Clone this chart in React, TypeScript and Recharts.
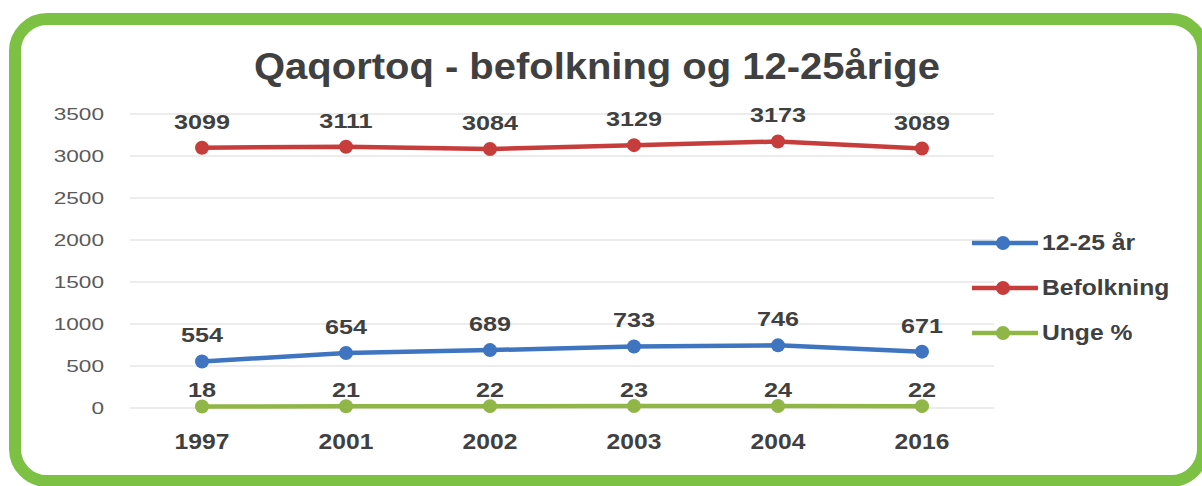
import React from 'react';
import { LineChart, Line, XAxis, YAxis, CartesianGrid, LabelList, Legend } from 'recharts';

const years = ['1997', '2001', '2002', '2003', '2004', '2016'];
const youth = [554, 654, 689, 733, 746, 671];
const population = [3099, 3111, 3084, 3129, 3173, 3089];
const youthPct = [18, 21, 22, 23, 24, 22];
const yTicks = [0, 500, 1000, 1500, 2000, 2500, 3000, 3500];

const data = years.map((year, i) => ({
  year,
  youth: youth[i],
  population: population[i],
  youthPct: youthPct[i],
}));

const FONT = '"Liberation Sans", Arial, sans-serif';
const BLUE = '#3E74C0';
const RED = '#C63D3C';
const GREEN = '#8FB646';
const FRAME = '#7CC143';
const TEXT = '#404040';

const YTick = (props: any) => {
  const { x, y, payload } = props;
  return (
    <g transform={`translate(${x},${y}) scale(1.33,1)`}>
      <text x={0} y={0} dy={6} textAnchor="end" fill="#595959" fontSize={17} fontFamily={FONT}>
        {payload.value}
      </text>
    </g>
  );
};

const XTick = (props: any) => {
  const { x, y, payload } = props;
  return (
    <g transform={`translate(${x},${y + 41}) scale(1.12,1)`}>
      <text x={0} y={0} textAnchor="middle" fill={TEXT} fontSize={22} fontWeight="bold" fontFamily={FONT}>
        {payload.value}
      </text>
    </g>
  );
};

const makeLabel = (offset: number) => (props: any) => {
  const { x, y, value } = props;
  return (
    <g transform={`translate(${x},${y - offset}) scale(1.2,1)`}>
      <text x={0} y={0} textAnchor="middle" fill={TEXT} fontSize={21} fontWeight="bold" fontFamily={FONT}>
        {value}
      </text>
    </g>
  );
};

const LegendContent = (props: any) => {
  const { payload } = props;
  return (
    <div style={{ display: 'flex', flexDirection: 'column' }}>
      {(payload || []).map((entry: any) => (
        <div key={entry.value} style={{ display: 'flex', alignItems: 'center', height: 45 }}>
          <svg width={66} height={16} style={{ display: 'block' }}>
            <line x1={0} y1={8} x2={66} y2={8} stroke={entry.color} strokeWidth={4.5} />
            <circle cx={31} cy={8} r={7} fill={entry.color} />
          </svg>
          <span
            style={{
              marginLeft: 4,
              fontFamily: FONT,
              fontSize: 22,
              fontWeight: 'bold',
              color: TEXT,
              display: 'inline-block',
              transform: 'scaleX(1.12)',
              transformOrigin: 'left center',
              whiteSpace: 'nowrap',
            }}
          >
            {entry.value}
          </span>
        </div>
      ))}
    </div>
  );
};

export default function App() {
  return (
    <div style={{ position: 'absolute', left: 0, top: 0, width: 1202, height: 486, overflow: 'hidden', background: '#fff' }}>
      <div
        style={{
          position: 'absolute',
          left: 9,
          top: 13,
          width: 1200,
          height: 474,
          boxSizing: 'border-box',
          border: `12px solid ${FRAME}`,
          borderRadius: 38,
          background: '#fff',
        }}
      />
      <svg width={1202} height={100} style={{ position: 'absolute', left: 0, top: 0 }}>
        <g transform="translate(597,79) scale(1.08,1)">
          <text x={0} y={0} textAnchor="middle" fill={TEXT} fontSize={37} fontWeight="bold" fontFamily={FONT}>
            Qaqortoq - befolkning og 12-25årige
          </text>
        </g>
      </svg>
      <div style={{ position: 'absolute', left: 0, top: 0 }}>
        <LineChart width={1202} height={486} data={data} margin={{ top: 114, right: 208, bottom: 0, left: 0 }}>
          <CartesianGrid vertical={false} stroke="#D9D9D9" strokeWidth={1} />
          <XAxis
            dataKey="year"
            axisLine={false}
            tickLine={false}
            tickSize={0}
            tickMargin={0}
            padding={{ left: 72, right: 72 }}
            tick={<XTick />}
            interval={0}
            height={78}
          />
          <YAxis
            width={130}
            domain={[0, 3500]}
            ticks={yTicks}
            axisLine={false}
            tickLine={false}
            tickSize={0}
            tickMargin={26}
            tick={<YTick />}
            interval={0}
          />
          <Legend
            layout="vertical"
            verticalAlign="middle"
            align="center"
            content={<LegendContent />}
            wrapperStyle={{ position: 'absolute', left: 972, top: 220, width: 220 }}
          />
          <Line
            name="12-25 år"
            dataKey="youth"
            stroke={BLUE}
            strokeWidth={4.5}
            dot={{ r: 7, fill: BLUE, stroke: BLUE, strokeWidth: 0 }}
            activeDot={false}
            isAnimationActive={false}
          >
            <LabelList dataKey="youth" content={makeLabel(19)} />
          </Line>
          <Line
            name="Befolkning"
            dataKey="population"
            stroke={RED}
            strokeWidth={4.5}
            dot={{ r: 7, fill: RED, stroke: RED, strokeWidth: 0 }}
            activeDot={false}
            isAnimationActive={false}
          >
            <LabelList dataKey="population" content={makeLabel(19)} />
          </Line>
          <Line
            name="Unge %"
            dataKey="youthPct"
            stroke={GREEN}
            strokeWidth={4.5}
            dot={{ r: 7, fill: GREEN, stroke: GREEN, strokeWidth: 0 }}
            activeDot={false}
            isAnimationActive={false}
          >
            <LabelList dataKey="youthPct" content={makeLabel(9)} />
          </Line>
        </LineChart>
      </div>
    </div>
  );
}
